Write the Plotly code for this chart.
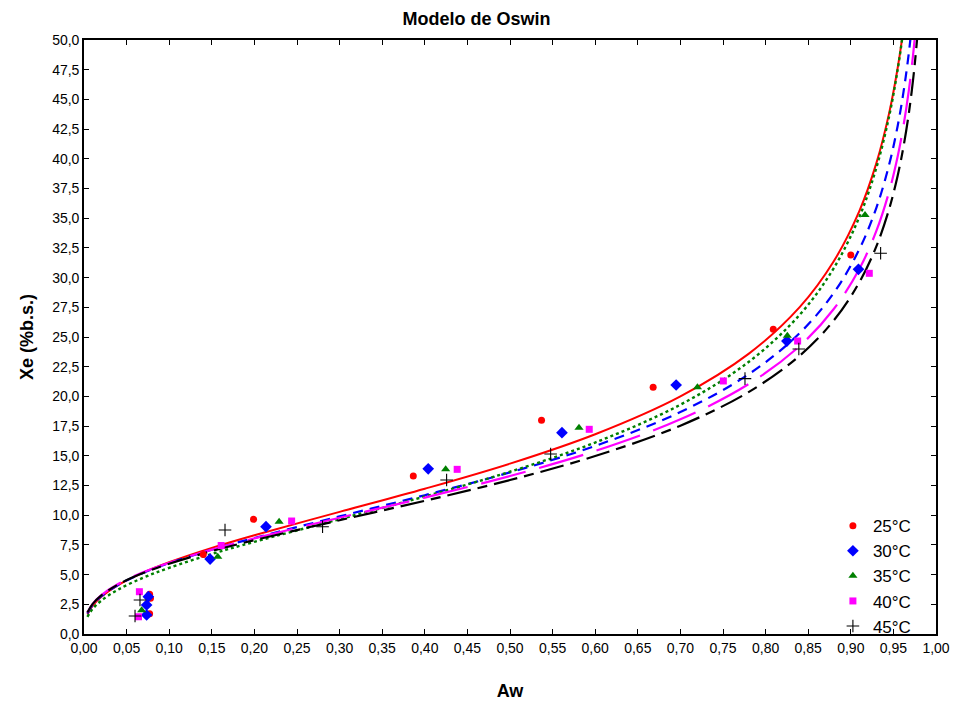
import plotly.graph_objects as go

# ---- model curve samples (Oswin model) ----
aw_curve = [0.004, 0.01, 0.02, 0.04, 0.07, 0.10, 0.15, 0.20, 0.30, 0.40, 0.50, 0.60,
            0.70, 0.78, 0.84, 0.88, 0.91, 0.93, 0.945, 0.955, 0.962, 0.968, 0.973, 0.977, 0.98]

xe_curve_25 = [1.640, 2.356, 3.107, 4.113, 5.189, 6.047, 7.253, 8.317, 10.279, 12.228, 14.34, 16.817,
               20.006, 23.581, 27.516, 31.376, 35.597, 39.633, 43.845, 47.644, 51.063, 54.76]
xe_curve_30 = [1.718, 2.427, 3.160, 4.130, 5.156, 5.966, 7.096, 8.086, 9.898, 11.682, 13.6, 15.834,
               18.686, 21.860, 25.327, 28.711, 32.384, 35.876, 39.507, 42.767, 45.690, 48.846, 52.158]
xe_curve_35 = [1.438, 2.095, 2.791, 3.735, 4.754, 5.573, 6.731, 7.759, 9.667, 11.577, 13.66, 16.118,
               19.301, 22.894, 26.869, 30.796, 35.106, 39.247, 43.587, 47.512, 51.058, 54.90]
xe_curve_40 = [1.805, 2.520, 3.251, 4.209, 5.214, 6.004, 7.098, 8.052, 9.787, 11.484, 13.3, 15.403,
               18.074, 21.030, 24.242, 27.357, 30.731, 33.925, 37.236, 40.192, 42.844, 45.694, 48.685, 51.670]
xe_curve_45 = [1.808, 2.513, 3.230, 4.167, 5.147, 5.915, 6.977, 7.901, 9.577, 11.213, 12.96, 14.979,
               17.538, 20.364, 23.427, 26.395, 29.603, 32.634, 35.769, 38.574, 41.078, 43.775, 46.598, 49.416, 52.001]

# ---- experimental points ----
aw_25 = [0.077, 0.078, 0.077, 0.140, 0.199, 0.3865, 0.537, 0.668, 0.809, 0.900]
xe_25 = [3.35, 3.0, 1.7, 6.7, 9.65, 13.3, 18.0, 20.76, 25.65, 31.9]

aw_30 = [0.0755, 0.0735, 0.0735, 0.148, 0.2136, 0.404, 0.561, 0.695, 0.825, 0.909]
xe_30 = [3.14, 2.44, 1.6, 6.31, 9.03, 13.9, 16.95, 20.96, 24.66, 30.7]

aw_35 = [0.0677, 0.157, 0.229, 0.4245, 0.581, 0.720, 0.8255, 0.9167]
xe_35 = [2.0, 6.5, 9.45, 13.86, 17.37, 20.76, 25.1, 35.27]

aw_40 = [0.065, 0.064, 0.161, 0.2437, 0.438, 0.593, 0.7504, 0.8376, 0.9217]
xe_40 = [3.56, 1.45, 7.45, 9.51, 13.86, 17.23, 21.3, 24.66, 30.36]

aw_45 = [0.0657, 0.0599, 0.1655, 0.280, 0.4256, 0.5477, 0.7758, 0.839, 0.935]
xe_45 = [2.86, 1.52, 8.75, 9.03, 12.96, 15.15, 21.5, 23.99, 32.05]

labels = ["25°C", "30°C", "35°C", "40°C", "45°C"]
x_ticks = [round(i * 0.05, 2) for i in range(21)]
y_ticks = [round(i * 2.5, 1) for i in range(21)]

fig = go.Figure()

curve_styles = [
    (xe_curve_25, dict(color="#FF0000", width=2, dash="solid")),
    (xe_curve_30, dict(color="#0000FF", width=2.2, dash="10px,7px")),
    (xe_curve_35, dict(color="#008000", width=2.4, dash="3px,3px")),
    (xe_curve_40, dict(color="#FF00FF", width=2.2, dash="46px,14px")),
    (xe_curve_45, dict(color="#000000", width=2.2, dash="24px,7px,10px,7px")),
]
for ys, ln in curve_styles:
    fig.add_trace(go.Scatter(x=aw_curve[:len(ys)], y=ys, mode="lines",
                             line=dict(shape="spline", **ln), showlegend=False,
                             hoverinfo="skip"))

point_sets = [
    (aw_25, xe_25, dict(symbol="circle", size=7, color="#FF0000")),
    (aw_30, xe_30, dict(symbol="diamond", size=9, color="#0000FF")),
    (aw_35, xe_35, dict(symbol="triangle-up", size=8, color="#008000")),
    (aw_40, xe_40, dict(symbol="square", size=7, color="#FF00FF")),
    (aw_45, xe_45, dict(symbol="cross-thin", size=9, color="#000000",
                        line=dict(color="#000000", width=1.1))),
]
for (xs, ys, mk), name in zip(point_sets, labels):
    fig.add_trace(go.Scatter(x=xs, y=ys, mode="markers", marker=mk, name=name))

fig.update_layout(
    width=953, height=704,
    margin=dict(l=84, r=17, t=40, b=70, autoexpand=False),
    paper_bgcolor="white", plot_bgcolor="white",
    separators=",.",
    font=dict(family="Liberation Sans, Arial, sans-serif", color="#000000", size=14),
    title=dict(text="<b>Modelo de Oswin</b>", x=0.5, xanchor="center",
               y=0.974, yanchor="middle", font=dict(size=18)),
    legend=dict(x=0.879, y=-0.017, xanchor="left", yanchor="bottom",
                bgcolor="rgba(0,0,0,0)", font=dict(size=17),
                itemsizing="trace", tracegroupgap=0),
    showlegend=True,
)
fig.update_xaxes(
    range=[0, 1], tickvals=x_ticks, tickformat=".2f", automargin=False,
    ticks="inside", ticklen=5, tickwidth=1.3, tickcolor="#000",
    showline=True, linewidth=1.6, linecolor="#000", mirror="ticks",
    showgrid=False, zeroline=False,
    title=dict(text="<b>Aw</b>", font=dict(size=18), standoff=30),
)
fig.update_yaxes(
    range=[0, 50], tickvals=y_ticks, tickformat=".1f", automargin=False,
    ticks="inside", ticklen=5, tickwidth=1.3, tickcolor="#000",
    showline=True, linewidth=1.6, linecolor="#000", mirror="ticks",
    showgrid=False, zeroline=False,
    title=dict(text="<b>Xe (%b.s.)</b>", font=dict(size=18), standoff=14),
)

fig.write_html("out.html")
